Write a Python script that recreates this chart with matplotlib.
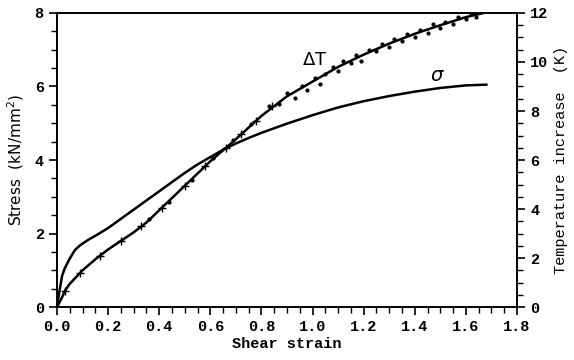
import matplotlib
matplotlib.use('Agg')
import matplotlib.pyplot as plt
from matplotlib.ticker import MultipleLocator

# stress curve (kN/mm^2) vs shear strain
sigma_strain = [0.0, 0.01, 0.02, 0.03, 0.05, 0.07, 0.09, 0.12, 0.16, 0.2, 0.25, 0.3,
                0.35, 0.4, 0.45, 0.5, 0.55, 0.6, 0.65, 0.7, 0.75, 0.8, 0.9, 1.0,
                1.1, 1.2, 1.3, 1.4, 1.5, 1.6, 1.68]
sigma = [0.0, 0.45, 0.85, 1.05, 1.32, 1.55, 1.68, 1.82, 1.98, 2.15, 2.4, 2.65,
         2.9, 3.15, 3.4, 3.65, 3.88, 4.08, 4.28, 4.45, 4.6, 4.74, 4.99, 5.22,
         5.43, 5.6, 5.74, 5.86, 5.96, 6.03, 6.05]

# temperature increase curve (K)
dT_strain = [0.0, 0.02, 0.03, 0.05, 0.07, 0.1, 0.15, 0.2, 0.25, 0.3, 0.35, 0.4,
             0.5, 0.6, 0.7, 0.8, 0.9, 1.0, 1.1, 1.2, 1.3, 1.4, 1.5, 1.6, 1.67]
dT = [0.0, 0.4, 0.65, 0.95, 1.17, 1.5, 1.95, 2.35, 2.7, 3.05, 3.45, 3.95,
      4.95, 5.95, 6.85, 7.8, 8.6, 9.2, 9.8, 10.3, 10.75, 11.15, 11.5, 11.83, 12.0]

# measured points (dots)
dot_strain = [0.36, 0.44, 0.53, 0.61, 0.69, 0.76, 0.83, 0.87, 0.9, 0.93, 0.96, 0.98,
              1.01, 1.03, 1.05, 1.08, 1.1, 1.12, 1.15, 1.17, 1.19, 1.22, 1.25, 1.27,
              1.3, 1.32, 1.35, 1.37, 1.4, 1.42, 1.45, 1.47, 1.5, 1.52, 1.55, 1.57,
              1.6, 1.62, 1.64]
dot_dT = [3.6, 4.3, 5.2, 6.1, 6.8, 7.45, 8.2, 8.3, 8.75, 8.55, 9.0, 8.85,
          9.35, 9.1, 9.5, 9.8, 9.65, 10.05, 9.95, 10.3, 10.05, 10.5, 10.45, 10.75,
          10.6, 10.95, 10.85, 11.15, 11.0, 11.3, 11.2, 11.55, 11.4, 11.65, 11.55, 11.85,
          11.75, 11.95, 11.85]

# crosses along the curve
cross_strain = [0.03, 0.09, 0.17, 0.25, 0.33, 0.41, 0.5, 0.58, 0.66, 0.72, 0.78, 0.84]
cross_dT = [0.65, 1.4, 2.1, 2.7, 3.3, 4.05, 4.95, 5.75, 6.5, 7.05, 7.6, 8.2]

mono = 'Liberation Mono'

fig = plt.figure(figsize=(5.74, 3.6), dpi=100)
ax = fig.add_axes([0.0993, 0.147, 0.8014, 0.817])
ax2 = ax.twinx()

ax.plot(sigma_strain, sigma, color='black', lw=1.8)
ax2.plot(dT_strain, dT, color='black', lw=1.8)
ax2.scatter(dot_strain, dot_dT, s=4, color='black', zorder=3)
ax2.scatter(cross_strain, cross_dT, s=30, marker='+', color='black', lw=1.0, zorder=3)

ax.set_xlim(0, 1.8)
ax.set_ylim(0, 8)
ax2.set_ylim(0, 12)

ax.xaxis.set_major_locator(MultipleLocator(0.2))
ax.xaxis.set_minor_locator(MultipleLocator(0.05))
ax.yaxis.set_major_locator(MultipleLocator(2))
ax.yaxis.set_minor_locator(MultipleLocator(0.5))
ax2.yaxis.set_major_locator(MultipleLocator(2))
ax2.yaxis.set_minor_locator(MultipleLocator(0.5))

for a in (ax, ax2):
    a.tick_params(which='major', direction='out', length=6, width=1.2)
    a.tick_params(which='minor', direction='out', length=4, width=1.0)
    for sp in a.spines.values():
        sp.set_linewidth(1.2)

ax.xaxis.set_major_formatter(plt.FuncFormatter(lambda v, p: f'{v:.1f}'))
for lab in ax.get_xticklabels() + ax.get_yticklabels() + ax2.get_yticklabels():
    lab.set_fontfamily(mono)
    lab.set_fontsize(11)
    lab.set_fontweight('bold')

ax.set_xlabel('Shear strain', fontfamily=mono, fontsize=11, fontweight='bold', labelpad=2)
ax.set_ylabel('Stress  (kN/mm$^2$)', fontsize=11, labelpad=6)
ax2.set_ylabel('Temperature increase  (K)', fontfamily=mono, fontsize=11, labelpad=4)

ax.text(1.01, 6.72, r'$\Delta$T', fontsize=13, ha='center', va='center')
ax.text(1.49, 6.3, r'$\sigma$', fontsize=14, ha='center', va='center')

fig.savefig('out.png', dpi=100)
